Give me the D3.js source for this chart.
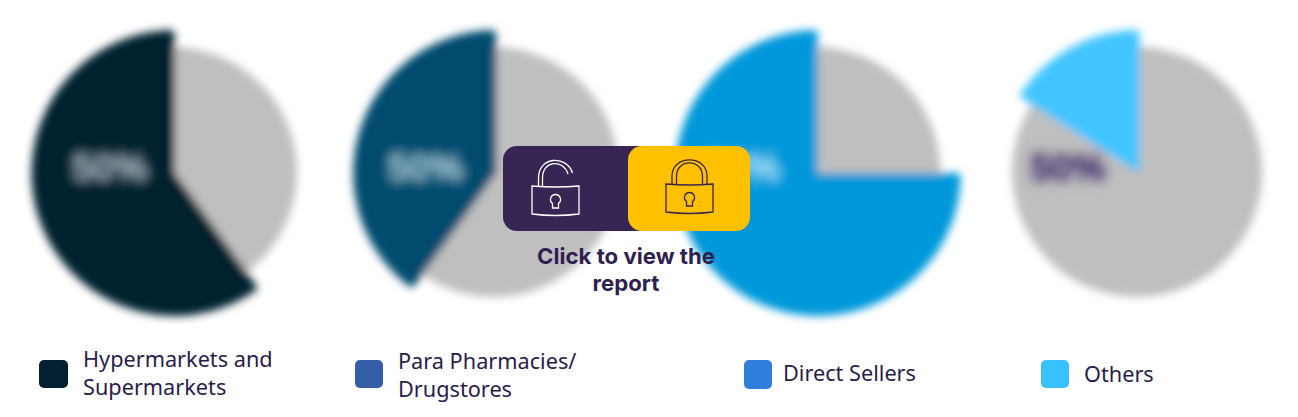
<!DOCTYPE html>
<html>
<head>
<meta charset="utf-8">
<script src="https://cdn.jsdelivr.net/npm/d3@7"></script>
<style>
html, body { margin: 0; padding: 0; background: #fff; }
svg { display: block; }
</style>
</head>
<body>
<div id="chart"></div>
<script>
'use strict';

// values (share of the coloured slice, in %)
var categories = ['Hypermarkets and Supermarkets', 'Para Pharmacies/ Drugstores', 'Direct Sellers', 'Others'];
var shares     = [60, 40, 75, 16];
var sliceText  = ['50%', '50%', '50%', '50%'];
var sliceCols  = ['#02202f', '#004b6e', '#0098da', '#42c5ff'];
var legendCols = ['#02202f', '#345fa6', '#2f7edb', '#38c0ff'];
var legendRows = [['Hypermarkets and', 'Supermarkets'], ['Para Pharmacies/', 'Drugstores'], ['Direct Sellers'], ['Others']];

var W = 1298, H = 417;
var svg = d3.select('#chart').append('svg').attr('width', W).attr('height', H);

var defs = svg.append('defs');
defs.append('filter').attr('id', 'blur')
    .attr('x', '-15%').attr('y', '-15%').attr('width', '130%').attr('height', '130%')
    .append('feGaussianBlur').attr('stdDeviation', 4);
defs.append('filter').attr('id', 'blurText')
    .attr('x', '-30%').attr('y', '-50%').attr('width', '160%').attr('height', '200%')
    .append('feGaussianBlur').attr('stdDeviation', 3.5);

var xScale = d3.scalePoint().domain(categories).range([172, 1137]);
var cy = 172;
var greyR = 125, colR = 143;
var pie = d3.pie().sort(null).value(function(d){ return d; });
var greyArc = d3.arc().innerRadius(0).outerRadius(greyR);
var colArc  = d3.arc().innerRadius(0).outerRadius(colR).cornerRadius(4);
var labelDx = [-62, -68, -73, -69];

var pies = svg.selectAll('g.pie')
    .data(categories)
    .enter()
    .append('g')
    .attr('class', 'pie')
    .attr('filter', 'url(#blur)')
    .attr('transform', function(d){ return 'translate(' + xScale(d) + ',' + cy + ')'; });

pies.each(function(d, i){
    var g = d3.select(this);
    // coloured slice ends at 12 o'clock, the rest is grey
    var slices = pie([100 - shares[i], shares[i]]);
    g.append('path').attr('d', greyArc({startAngle: 0, endAngle: 2 * Math.PI})).style('fill', '#bfbfbf');
    g.append('path')
        .attr('transform', 'translate(2.5,1)')
        .attr('d', colArc(slices[1]))
        .style('fill', sliceCols[i]);
    g.append('text')
        .attr('x', labelDx[i])
        .attr('y', -4)
        .attr('dy', '.35em')
        .attr('filter', 'url(#blurText)')
        .style('text-anchor', 'middle')
        .style('font', 'bold 38px "Liberation Sans"')
        .style('stroke', i == 3 ? '#4a3670' : '#fff')
        .style('stroke-width', 2)
        .style('fill', i == 3 ? '#4a3670' : '#fff')
        .style('opacity', i == 3 ? 0.9 : 0.6)
        .text(sliceText[i]);
});

// lock button
var btn = svg.append('g');
btn.append('rect').attr('x', 503).attr('y', 146).attr('width', 160).attr('height', 85).attr('rx', 14).style('fill', '#372554');
btn.append('rect').attr('x', 628).attr('y', 146).attr('width', 122).attr('height', 85).attr('rx', 14).style('fill', '#ffc000');

function lock(x, y, col, open)
{
    var g = btn.append('g').attr('transform', 'translate(' + x + ',' + y + ')')
        .style('fill', 'none').style('stroke', col).style('stroke-width', 1.3);
    g.append('path').attr('d', 'M0,0 Q23.5,2 47,0 L47,28 Q23.5,31 0,28 Z');
    g.append('path').attr('d', 'M23.5,8.5 a5,5 0 0 1 3,9 l0,4.5 l-6,0 l0,-4.5 a5,5 0 0 1 3,-9 Z');
    if (open) {
        g.append('path').attr('d', 'M6.5,0 L6.5,-8 C6.5,-30 35,-31 40.5,-13');
        g.append('path').attr('d', 'M10.5,0 L10.5,-8 C10.5,-26 31.5,-27 36,-12');
    } else {
        g.append('path').attr('d', 'M6,0 L6,-8 C6,-29.5 41,-29.5 41,-8 L41,0');
        g.append('path').attr('d', 'M10.5,0 L10.5,-8 C10.5,-25.5 36.5,-25.5 36.5,-8 L36.5,0');
    }
}
lock(532, 186, '#ffffff', true);
lock(666, 184, '#372554', false);

btn.selectAll('text.cta')
    .data(['Click to view the', 'report'])
    .enter()
    .append('text')
    .attr('class', 'cta')
    .attr('x', 626)
    .attr('y', function(d, i){ return 264 + i * 27; })
    .style('text-anchor', 'middle')
    .style('font', 'bold 22.2px Inter')
    .style('fill', '#2f1f50')
    .text(function(d){ return d; });

// legend
var swatchX = [39, 355, 744, 1041];
var textX   = [83, 398, 783, 1084];
var rowY    = [[367, 395], [369, 397], [381], [382]];

var legend = svg.selectAll('g.legend')
    .data(categories)
    .enter()
    .append('g')
    .attr('class', 'legend');

legend.append('rect')
    .attr('x', function(d, i){ return swatchX[i]; })
    .attr('y', 360)
    .attr('width', function(d, i){ return i == 0 ? 29 : 28; })
    .attr('height', function(d, i){ return i == 2 ? 29 : 28; })
    .attr('rx', 5)
    .style('fill', function(d, i){ return legendCols[i]; });

legend.each(function(d, i){
    d3.select(this).selectAll('text')
        .data(legendRows[i])
        .enter()
        .append('text')
        .attr('x', textX[i])
        .attr('y', function(t, j){ return rowY[i][j]; })
        .style('font', '21.7px "Noto Sans"')
        .style('fill', '#2a1c4a')
        .text(function(t){ return t; });
});
</script>
</body>
</html>
